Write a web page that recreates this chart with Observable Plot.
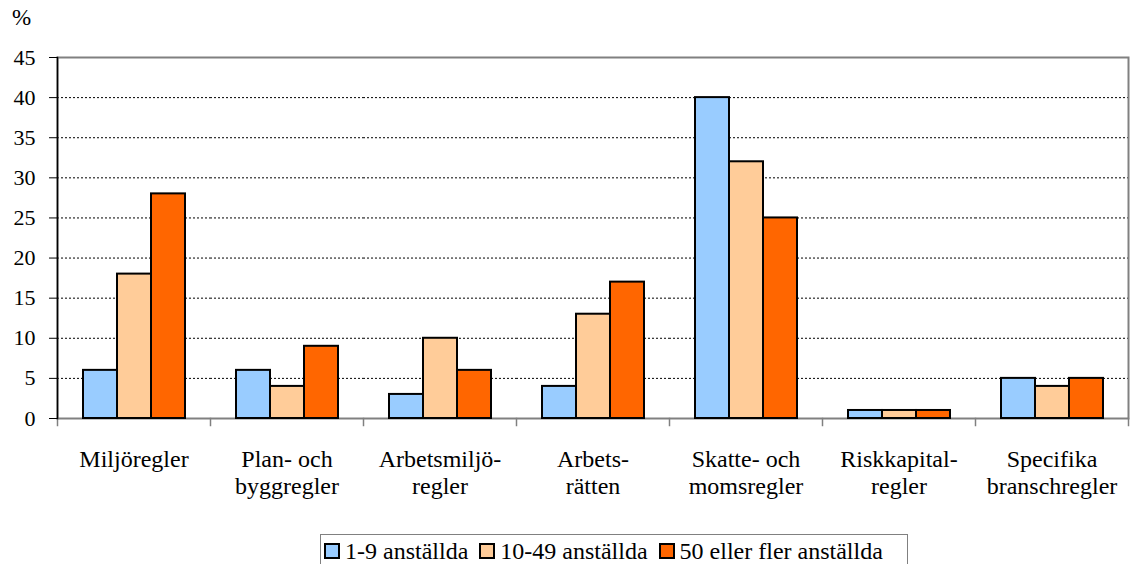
<!DOCTYPE html>
<html><head><meta charset="utf-8">
<script src="https://cdn.jsdelivr.net/npm/d3@7"></script>
<script src="https://cdn.jsdelivr.net/npm/@observablehq/plot@0.6"></script>
<style>
body{margin:0;background:#fff;font-family:'Liberation Serif',serif;color:#000}
#wrap{position:relative;width:1131px;height:564px;overflow:hidden}
#pct{position:absolute;left:12px;top:6px;font-size:23px;line-height:1;font-family:'Liberation Serif'}
#chart{position:absolute;left:0;top:0}
#legend{position:absolute;left:320px;top:534px;width:588px;height:40px;border:1px solid #808080;box-sizing:border-box;display:flex;align-items:flex-start;padding:4px 0 0 3px;font-size:24px;line-height:1;white-space:nowrap;font-family:'Liberation Serif'}
.item{display:flex;align-items:center;margin-right:11px}
.sw{width:12px;height:12px;border:2px solid #000;margin-right:5px;display:inline-block}
svg text{font-family:'Liberation Serif'}
</style></head>
<body><div id="wrap"><div id="chart"></div><div id="pct">%</div><div id="legend"></div></div>
<script>
const categories = ["Miljöregler","Plan- och\nbyggregler","Arbetsmiljö-\nregler","Arbets-\nrätten","Skatte- och\nmomsregler","Riskkapital-\nregler","Specifika\nbranschregler"];
const series = ["1-9 anställda","10-49 anställda","50 eller fler anställda"];
const small = [6,6,3,4,40,1,5];
const medium = [18,4,10,13,32,1,4];
const large = [28,9,6,17,25,1,5];
const colors = ["#99CCFF","#FFCC99","#FF6600"];
const yTicks = [0,5,10,15,20,25,30,35,40,45];

const values = [small, medium, large];
const rows = [];
series.forEach((s, j) => categories.forEach((c, i) => rows.push({category: c, series: s, value: values[j][i]})));

const FONT = "'Liberation Serif', serif";
const chart = Plot.plot({
  width: 1131, height: 530,
  marginLeft: 55, marginRight: 2, marginTop: 57, marginBottom: 112,
  style: {fontFamily: FONT, background: "transparent", color: "#000", overflow: "visible"},
  fx: {domain: categories, padding: 0, label: null},
  x: {domain: series, paddingInner: 0, paddingOuter: 0.735, axis: null},
  y: {domain: [0, 45], label: null},
  color: {domain: series, range: colors},
  marks: [
    Plot.gridY(yTicks.filter(d => d > 0 && d < 45), {stroke: "#000", strokeOpacity: 1, strokeDasharray: "2,2"}),
    Plot.frame({facet: "super", stroke: "#808080", strokeWidth: 2}),
    Plot.frame({anchor: "left", insetTop: 361, insetBottom: -7, stroke: "#808080", strokeWidth: 1.5}),
    Plot.frame({facet: "super", anchor: "right", insetTop: 361, insetBottom: -7, stroke: "#808080", strokeWidth: 1.5}),
    Plot.frame({facet: "super", anchor: "left", stroke: "#000", strokeWidth: 1.5}),
    Plot.barY(rows, {fx: "category", x: "series", y: "value", fill: "series", stroke: "#000", strokeWidth: 2}),
    Plot.axisY({ticks: yTicks, tickSize: 8, tickPadding: 14, fontSize: 22, stroke: "#000", fontFamily: FONT}),
    Plot.axisFx({anchor: "bottom", tickSize: 0, tickPadding: 30, fontSize: 24, lineHeight: 1.1, label: null, fontFamily: FONT})
  ]
});
document.getElementById("chart").appendChild(chart);

const legend = document.getElementById("legend");
series.forEach((s, j) => {
  const it = document.createElement("div"); it.className = "item";
  const sw = document.createElement("span"); sw.className = "sw"; sw.style.background = colors[j];
  const t = document.createElement("span"); t.textContent = s;
  it.appendChild(sw); it.appendChild(t); legend.appendChild(it);
});
</script></body></html>
